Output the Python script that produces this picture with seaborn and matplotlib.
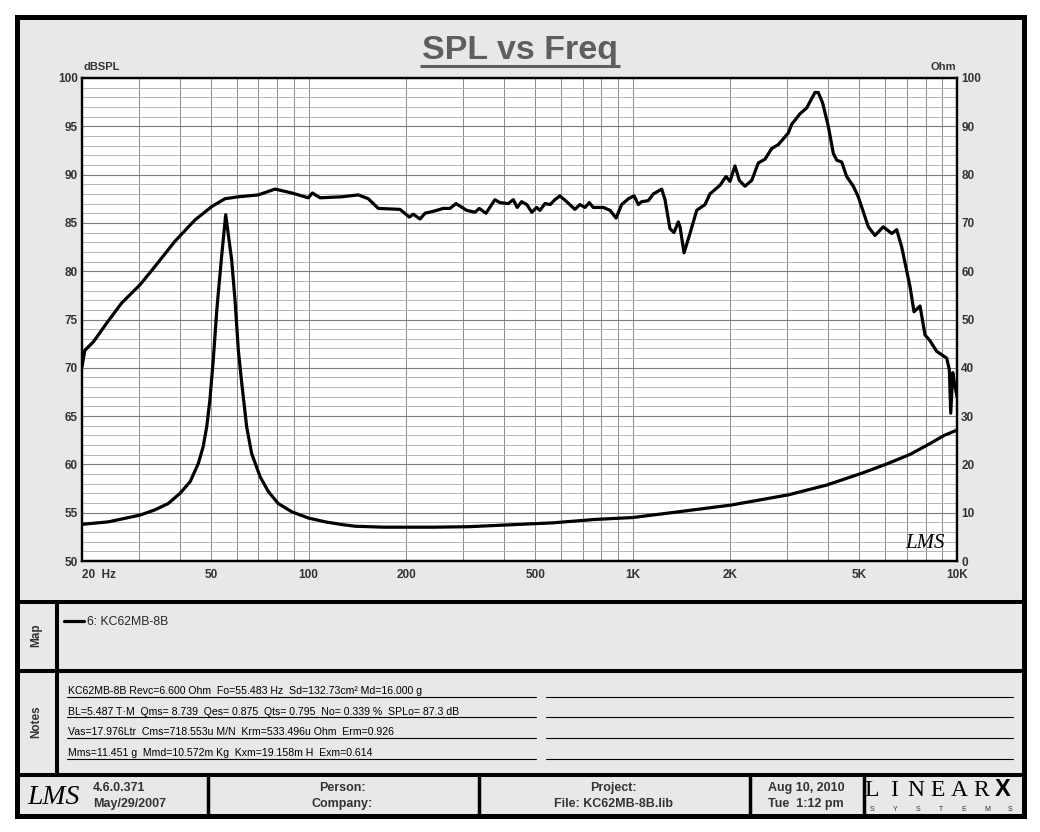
import numpy as np
import pandas as pd
import matplotlib
matplotlib.use("Agg")
import matplotlib.pyplot as plt
import seaborn as sns
from matplotlib.patches import Rectangle
from matplotlib.ticker import FixedLocator, NullFormatter, MultipleLocator

# ---------------- data ----------------
spl_freq = [20, 20.4, 21.7, 23.8, 26.5, 30.2, 33.6, 38.7, 44.6, 50.3, 55.2, 60.7, 70.0, 78.8,
            88.7, 99.8, 102.7, 108.5, 126.5, 142.3, 152.8, 164, 191.4, 204.5, 210.3, 220.6,
            228.6, 242.5, 260.3, 273, 284.9, 307.3, 326, 336, 352.5, 375.6, 389, 413, 428,
            440, 454, 471, 488, 505, 517, 536, 556, 575, 596, 625, 663, 687, 712, 734, 755,
            811, 851, 888, 924, 969, 1009, 1040, 1065, 1116, 1157, 1228, 1257, 1302, 1340,
            1381, 1398, 1439, 1501, 1574, 1670, 1730, 1858, 1939, 1994, 2066, 2131, 2218,
            2327, 2438, 2557, 2682, 2810, 3017, 3091, 3279, 3438, 3647, 3733, 3852, 4009,
            4154, 4256, 4409, 4568, 4788, 4960, 5326, 5585, 5925, 6290, 6516, 6752, 7163,
            7369, 7690, 7968, 8256, 8658, 9297, 9470, 9565, 9702, 9790, 10000]
spl_db = [70.1, 71.8, 72.7, 74.6, 76.7, 78.6, 80.5, 83.1, 85.3, 86.7, 87.5, 87.7, 87.9, 88.5,
          88.1, 87.6, 88.1, 87.6, 87.7, 87.9, 87.5, 86.5, 86.4, 85.6, 85.9, 85.4,
          86.0, 86.2, 86.5, 86.5, 87.0, 86.3, 86.1, 86.5, 86.0, 87.4, 87.1, 87.0, 87.4,
          86.6, 87.2, 86.9, 86.1, 86.6, 86.3, 87.0, 86.9, 87.4, 87.8, 87.2, 86.4, 86.9, 86.6, 87.1, 86.6,
          86.6, 86.3, 85.5, 86.9, 87.5, 87.8, 86.9, 87.2, 87.3, 88.0, 88.5, 87.4, 84.4, 84.0,
          85.1, 84.6, 81.9, 83.9, 86.3, 86.9, 88.0, 88.9, 89.8, 89.3, 90.9, 89.4, 88.8,
          89.4, 91.2, 91.6, 92.7, 93.1, 94.3, 95.2, 96.3, 96.9, 98.5, 98.5, 97.4, 95.0,
          92.2, 91.5, 91.3, 89.8, 88.8, 87.7, 84.6, 83.7, 84.6, 83.9, 84.3, 82.5, 78.4,
          75.8, 76.4, 73.4, 72.8, 71.7, 71.0, 69.8, 65.3, 69.5, 68.7, 67.0]

imp_freq = [20, 24.1, 30.2, 33.6, 36.9, 40.1, 43.1, 45.7, 47.3, 48.5, 49.6, 50.8, 52.1, 53.9,
            55.5, 57.9, 59.3, 60.7, 62.2, 64.4, 66.7, 70.8, 75.1, 80.6, 88.7, 99.8, 112.6,
            128, 139, 171, 242, 311, 420, 566, 763, 1000, 1388, 2017, 3020, 3952, 5100,
            6130, 7180, 8300, 9130, 10000]
imp_ohm = [7.6, 8.1, 9.5, 10.6, 11.9, 14.0, 16.4, 20.2, 23.7, 27.8, 33.3, 41.6, 52.0, 63.0,
           71.7, 62.3, 54.0, 43.7, 36.8, 27.8, 22.3, 17.5, 14.4, 11.9, 10.2, 8.9, 8.1,
           7.5, 7.2, 7.0, 7.0, 7.1, 7.5, 7.9, 8.6, 9.0, 10.2, 11.6, 13.7, 15.7, 18.2,
           20.2, 22.1, 24.4, 26.0, 27.1]

x_ticks = [20, 50, 100, 200, 500, 1000, 2000, 5000, 10000]
x_labels = ["20  Hz", "50", "100", "200", "500", "1K", "2K", "5K", "10K"]
x_minor = [30, 40, 60, 70, 80, 90, 300, 400, 600, 700, 800, 900,
           3000, 4000, 6000, 7000, 8000, 9000]
left_ticks = [50, 55, 60, 65, 70, 75, 80, 85, 90, 95, 100]
right_ticks = [0, 10, 20, 30, 40, 50, 60, 70, 80, 90, 100]

title = "SPL vs Freq"
series_label = "6: KC62MB-8B"
notes_lines = [
    "KC62MB-8B Revc=6.600 Ohm  Fo=55.483 Hz  Sd=132.73cm\u00b2 Md=16.000 g",
    "BL=5.487 T\u00b7M  Qms= 8.739  Qes= 0.875  Qts= 0.795  No= 0.339 %  SPLo= 87.3 dB",
    "Vas=17.976Ltr  Cms=718.553u M/N  Krm=533.496u Ohm  Erm=0.926",
    "Mms=11.451 g  Mmd=10.572m Kg  Kxm=19.158m H  Exm=0.614",
]
footer_cells = [("4.6.0.371", "May/29/2007"), ("Person:", "Company:"),
                ("Project:", "File: KC62MB-8B.lib"), ("Aug 10, 2010", "Tue  1:12 pm")]

# ---------------- style ----------------
sns.set_theme(style="white")
plt.rcParams["font.family"] = ["Liberation Sans", "DejaVu Sans"]
TXT = "#333333"
PANEL = "#e8e8e8"

W, H = 1040, 832
fig = plt.figure(figsize=(10.4, 8.32), dpi=100)
fig.patch.set_facecolor("white")

# background / frame axes in pixel coordinates
bg = fig.add_axes([0, 0, 1, 1])
bg.set_xlim(0, W)
bg.set_ylim(H, 0)
bg.axis("off")
bg.add_patch(Rectangle((16.5, 16.5), 1007.7, 799, facecolor=PANEL, edgecolor="black",
                       lw=3.6, joinstyle="miter"))
for yy in (602, 671, 775):
    bg.plot([16.5, 1024.2], [yy, yy], color="black", lw=2.9, solid_capstyle="butt")
bg.plot([57, 57], [602, 775], color="black", lw=2.9, solid_capstyle="butt")
for xx in (208, 479, 750, 863.5):
    bg.plot([xx, xx], [775, 815.5], color="black", lw=2.5, solid_capstyle="butt")

# title with underline
bg.text(520, 59.5, title, ha="center", va="baseline", fontsize=24.5, fontweight="bold",
        color="#5e5e5e")
bg.plot([420, 620], [65.5, 65.5], color="#5e5e5e", lw=2.2, solid_capstyle="butt")
bg.text(83, 67, "dBSPL", ha="left", va="center", fontsize=8, fontweight="bold", color=TXT)
bg.text(956, 67, "Ohm", ha="right", va="center", fontsize=8, fontweight="bold", color=TXT)

# side labels
bg.text(36, 635, "Map", rotation=90, ha="center", va="center", fontsize=8.5,
        fontweight="bold", color=TXT)
bg.text(36, 722, "Notes", rotation=90, ha="center", va="center", fontsize=8.5,
        fontweight="bold", color=TXT)

# notes
note_base = [694.5, 714.8, 735.3, 756.3]
for yb, line in zip(note_base, notes_lines):
    bg.text(68, yb, line, ha="left", va="baseline", fontsize=7.6, color="black")
    bg.plot([67, 536], [yb + 2.6, yb + 2.6], color="black", lw=0.8)
    bg.plot([546, 1013], [yb + 2.6, yb + 2.6], color="black", lw=0.8)

# footer
bg.text(54, 797, "LMS", ha="center", va="center", fontsize=20, style="italic",
        family="Liberation Serif", color="black")
cell_x = [(93, "left"), (342, "center"), (613, "center"), (806, "center")]
for (cx, ha), (l1, l2) in zip(cell_x, footer_cells):
    bg.text(cx, 788, l1, ha=ha, va="center", fontsize=9, fontweight="bold", color=TXT)
    bg.text(cx, 804, l2, ha=ha, va="center", fontsize=9, fontweight="bold", color=TXT)
for i, (ch, xx) in enumerate(zip("LINEARX", np.linspace(872, 1003, 7))):
    if ch == "X":
        bg.text(xx, 790, ch, ha="center", va="center", fontsize=17, fontweight="bold",
                family="Liberation Sans", color="black")
    else:
        bg.text(xx, 790, ch, ha="center", va="center", fontsize=17,
                family="Liberation Serif", color="black")
for ch, xx in zip("SYSTEMS", np.linspace(872, 1010, 7)):
    bg.text(xx, 809.5, ch, ha="center", va="center", fontsize=5, color="#333333")

# ---------------- plot ----------------
ax = fig.add_axes([82 / W, 1 - 561 / H, 875 / W, 483 / H])
ax.set_facecolor("white")
spl_df = pd.DataFrame({"freq": spl_freq, "db": spl_db})
imp_df = pd.DataFrame({"freq": imp_freq, "ohm": imp_ohm})

sns.lineplot(data=spl_df, x="freq", y="db", ax=ax, color="black", lw=2.3,
             estimator=None, label=series_label, zorder=5)
ax.set_xscale("log")
ax.set_xlim(20, 10000)
ax.set_ylim(50, 100)

ax2 = ax.twinx()
sns.lineplot(data=imp_df, x="freq", y="ohm", ax=ax2, color="black", lw=2.3,
             estimator=None, legend=False, zorder=5)
ax2.set_ylim(0, 100)
ax2.set_xlim(20, 10000)

ax.set_xticks(x_ticks)
ax.set_xticklabels(x_labels)
ax.xaxis.set_minor_locator(FixedLocator(x_minor))
ax.xaxis.set_minor_formatter(NullFormatter())
ax.set_yticks(left_ticks)
ax.set_yticklabels([str(v) for v in left_ticks])
ax.yaxis.set_minor_locator(MultipleLocator(1))
ax2.set_yticks(right_ticks)
ax2.set_yticklabels([str(v) for v in right_ticks])

ax.grid(which="major", axis="y", color="#7c7c7c", lw=0.8)
ax.grid(which="minor", axis="y", color="#b4b4b4", lw=0.7)
ax.grid(which="both", axis="x", color="#8a8a8a", lw=0.7)
ax2.grid(False)
ax.set_axisbelow(True)

for a in (ax, ax2):
    a.tick_params(which="both", length=0)
    a.set_xlabel("")
    a.set_ylabel("")
    for s in a.spines.values():
        s.set_color("black")
        s.set_linewidth(1.6)
        s.set_visible(True)

ax.tick_params(axis="x", pad=6, labelsize=8.5, labelcolor=TXT)
ax.tick_params(axis="y", pad=3, labelsize=8.5, labelcolor=TXT)
ax2.tick_params(axis="y", pad=3, labelsize=8.5, labelcolor=TXT)
for lab in ax.get_xticklabels() + ax.get_yticklabels() + ax2.get_yticklabels():
    lab.set_fontweight("bold")
ax.get_xticklabels()[0].set_ha("left")

ax.text((925 - 82) / 875, (561 - 543) / 483, "LMS", transform=ax.transAxes, ha="center",
        va="center", fontsize=15, style="italic", family="Liberation Serif", color="black",
        zorder=6)

ax.legend(loc="center left", bbox_to_anchor=(64 / W, 1 - 622 / H),
          bbox_transform=fig.transFigure, frameon=False, fontsize=8.8,
          handlelength=1.6, handletextpad=0.3, borderpad=0, borderaxespad=0)

fig.savefig("out.png", dpi=100, facecolor="white")
